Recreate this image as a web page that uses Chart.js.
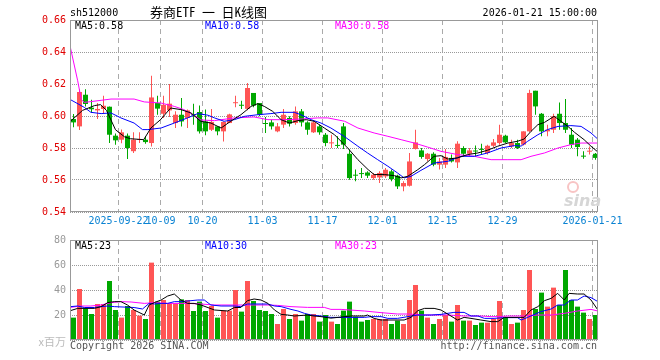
<!DOCTYPE html>
<html>
<head>
<meta charset="utf-8">
<script src="https://cdn.jsdelivr.net/npm/chart.js"></script>
<style>
  html, body { margin: 0; padding: 0; background: #fff; }
  #wrap { position: relative; width: 660px; height: 360px; overflow: hidden;
          font-family: 'DejaVu Sans Mono', monospace; font-size: 10px; }
  #wrap canvas { position: absolute; left: 0; }
  .t { position: absolute; white-space: pre; line-height: 12px; }
</style>
</head>
<body>
<div id="wrap">
  <canvas id="price" width="660" height="232" style="top:0;width:660px;height:232px"></canvas>
  <canvas id="vol" width="660" height="120" style="top:230px;width:660px;height:120px"></canvas>

  <div class="t" style="left:70px;top:7px;color:#000">sh512000</div>
  <div class="t" style="left:150px;top:4px;line-height:16px;font-size:13px;color:#000;font-family:'Noto Sans Mono CJK SC','Noto Sans CJK SC',sans-serif">券商ETF 一 日K线图</div>
  <div class="t" style="right:63px;top:7px;color:#000">2026-01-21 15:00:00</div>

  <div class="t" style="left:75px;top:20px;color:#000">MA5:0.58</div>
  <div class="t" style="left:205px;top:20px;color:#0000ff">MA10:0.58</div>
  <div class="t" style="left:335px;top:20px;color:#ff00ff">MA30:0.58</div>

  <div class="t" style="left:75px;top:240px;color:#000">MA5:23</div>
  <div class="t" style="left:205px;top:240px;color:#0000ff">MA10:30</div>
  <div class="t" style="left:335px;top:240px;color:#ff00ff">MA30:23</div>

  <div class="t" style="left:567px;top:181px;width:8px;height:8px;border:2px solid #f8c4c4;border-radius:50%"></div>
  <div class="t" style="left:564px;top:191px;line-height:14px;font:italic bold 16px 'DejaVu Sans',sans-serif;color:#d6d6d6">sina</div>

  <div class="t" style="right:594px;top:335px;line-height:12px;font-size:11px;color:#bbb;font-family:'Noto Sans CJK SC',sans-serif">x百万</div>
  <div class="t" style="left:70px;top:340px;color:#555">Copyright 2026 SINA.COM</div>
  <div class="t" style="right:63px;top:340px;color:#555">http://finance.sina.com.cn</div>
</div>

<script>
// trading days shown (one candle each)
const dates = [
  '2025-09-10','2025-09-11','2025-09-12','2025-09-15','2025-09-16','2025-09-17','2025-09-18','2025-09-19',
  '2025-09-22','2025-09-23','2025-09-24','2025-09-25','2025-09-26','2025-09-29','2025-09-30',
  '2025-10-09','2025-10-10','2025-10-13','2025-10-14','2025-10-15','2025-10-16','2025-10-17',
  '2025-10-20','2025-10-21','2025-10-22','2025-10-23','2025-10-24','2025-10-27','2025-10-28',
  '2025-10-29','2025-10-30','2025-10-31',
  '2025-11-03','2025-11-04','2025-11-05','2025-11-06','2025-11-07','2025-11-10','2025-11-11',
  '2025-11-12','2025-11-13','2025-11-14','2025-11-17','2025-11-18','2025-11-19','2025-11-20',
  '2025-11-21','2025-11-24','2025-11-25','2025-11-26','2025-11-27','2025-11-28',
  '2025-12-01','2025-12-02','2025-12-03','2025-12-04','2025-12-05','2025-12-08','2025-12-09',
  '2025-12-10','2025-12-11','2025-12-12','2025-12-15','2025-12-16','2025-12-17','2025-12-18',
  '2025-12-19','2025-12-22','2025-12-23','2025-12-24','2025-12-25','2025-12-26','2025-12-29',
  '2025-12-30','2025-12-31',
  '2026-01-05','2026-01-06','2026-01-07','2026-01-08','2026-01-09','2026-01-12','2026-01-13',
  '2026-01-14','2026-01-15','2026-01-16','2026-01-19','2026-01-20','2026-01-21'
];

const opens = [
  0.5981,0.5935,0.6133,0.6052,0.6035,0.6044,0.6058,0.5877,0.5852,0.5877,
  0.5780,0.5850,0.5852,0.5831,0.6081,0.6014,0.6035,0.5956,0.6008,0.5988,
  0.6012,0.6025,0.5966,0.5914,0.5935,0.5904,0.5956,0.6080,0.6068,0.6045,
  0.6144,0.6081,0.5956,0.5960,0.5904,0.5946,0.5988,0.5956,0.6029,0.5960,
  0.5898,0.5935,0.5883,0.5829,0.5817,0.5935,0.5764,0.5631,0.5641,0.5647,
  0.5612,0.5616,0.5623,0.5654,0.5627,0.5560,0.5564,0.5794,0.5785,0.5731,
  0.5764,0.5696,0.5696,0.5738,0.5710,0.5800,0.5764,0.5782,0.5792,0.5769,
  0.5814,0.5831,0.5877,0.5810,0.5831,0.5821,0.5904,0.6158,0.6014,0.5904,
  0.5914,0.6014,0.5956,0.5883,0.5852,0.5750,0.5777,0.5764
];
const highs = [
  0.6012,0.6167,0.6167,0.6102,0.6081,0.6127,0.6060,0.5890,0.5915,0.5890,
  0.5898,0.5898,0.5873,0.6252,0.6127,0.6127,0.6200,0.6029,0.6112,0.6040,
  0.6077,0.6065,0.6040,0.6044,0.5935,0.5965,0.6014,0.6127,0.6096,0.6206,
  0.6144,0.6081,0.5994,0.5977,0.5956,0.6044,0.5998,0.6060,0.6044,0.5967,
  0.5967,0.5946,0.5894,0.5883,0.5873,0.5956,0.5790,0.5665,0.5675,0.5654,
  0.5644,0.5654,0.5675,0.5665,0.5633,0.5592,0.5769,0.5914,0.5800,0.5769,
  0.5773,0.5738,0.5794,0.5759,0.5842,0.5811,0.5800,0.5815,0.5827,0.5821,
  0.5856,0.5946,0.5883,0.5852,0.5852,0.5904,0.6164,0.6158,0.6018,0.5946,
  0.6014,0.6085,0.6106,0.5925,0.5863,0.5779,0.5810,0.5769
];
const lows = [
  0.5929,0.5912,0.6060,0.6021,0.5981,0.6019,0.5831,0.5820,0.5830,0.5731,
  0.5768,0.5831,0.5827,0.5810,0.6008,0.5988,0.5994,0.5925,0.5935,0.5925,
  0.5946,0.5890,0.5880,0.5906,0.5880,0.5841,0.5956,0.6054,0.6044,0.6036,
  0.6055,0.5998,0.5894,0.5915,0.5898,0.5925,0.5935,0.5946,0.5935,0.5883,
  0.5894,0.5883,0.5811,0.5800,0.5800,0.5794,0.5602,0.5592,0.5612,0.5612,
  0.5602,0.5581,0.5612,0.5592,0.5543,0.5529,0.5560,0.5790,0.5733,0.5717,
  0.5686,0.5665,0.5675,0.5710,0.5675,0.5748,0.5748,0.5744,0.5759,0.5759,
  0.5806,0.5821,0.5831,0.5800,0.5794,0.5815,0.5898,0.6008,0.5873,0.5873,
  0.5894,0.5914,0.5894,0.5800,0.5748,0.5733,0.5759,0.5727
];
const closes = [
  0.5960,0.6150,0.6075,0.6042,0.6044,0.6064,0.5883,0.5848,0.5898,0.5800,
  0.5852,0.5854,0.5837,0.6116,0.6046,0.6070,0.6077,0.6008,0.5966,0.6035,
  0.6004,0.5904,0.5904,0.5963,0.5904,0.5963,0.6010,0.6084,0.6064,0.6175,
  0.6065,0.6008,0.5950,0.5935,0.5935,0.6008,0.5952,0.6029,0.5960,0.5914,
  0.5960,0.5898,0.5831,0.5833,0.5813,0.5821,0.5612,0.5627,0.5637,0.5627,
  0.5633,0.5644,0.5664,0.5606,0.5560,0.5581,0.5716,0.5835,0.5744,0.5764,
  0.5696,0.5716,0.5744,0.5716,0.5827,0.5764,0.5785,0.5778,0.5788,0.5814,
  0.5835,0.5883,0.5835,0.5831,0.5800,0.5904,0.6144,0.6060,0.5904,0.5914,
  0.5998,0.5956,0.5914,0.5821,0.5806,0.5746,0.5781,0.5738
];
// volume, millions
const volumes = [
  17.9,40.8,25.3,20.8,28.8,28.8,47.2,24,17.9,27.2,
  24,19.5,16.8,61.9,30.7,32,29.3,29.3,32.5,32,
  23.2,30.7,23.2,27.2,17.9,23.5,23.5,40,22.7,47.2,
  31.2,24,23.2,20.8,12.8,24.8,16.8,20.8,15.5,20.8,
  20.8,14.7,20,14.7,12.8,23.5,30.7,18.7,14.7,16,
  16.8,16.8,16.8,12.8,15.5,12.8,32,44,23.5,17.9,
  12.8,16.8,20,14.7,28,15.5,15.5,12,13.9,13.9,
  16.8,31.2,18.1,12.8,13.9,24,56,24.8,37.9,26.7,
  41.9,28,56,32,26.7,21.9,16.8,20
];

// moving average lines: [candle position, value]
const ma5 = [[-0.5,0.5967],[1.5,0.6035],[3.5,0.6065],[4.5,0.6071],[5.5,0.6035],[7,0.5914],[8.5,0.5870],[9.5,0.5858],
  [11.7,0.5852],[12.9,0.5925],[14.5,0.5977],[16.2,0.6050],[17.9,0.6040],[19.6,0.6019],[21.2,0.5967],[22.9,0.5956],
  [24.6,0.5925],[26.2,0.5967],[27.9,0.6008],[29.6,0.6060],[30.7,0.6077],[31.8,0.6060],[33.2,0.6029],[34.6,0.5977],
  [36,0.5956],[37.4,0.5971],[38.8,0.5977],[40.1,0.5967],[41.8,0.5925],[43.5,0.5883],[45.7,0.5800],[47.4,0.5727],
  [49.1,0.5665],[50.1,0.5634],[51.8,0.5634],[53.5,0.5627],[54.6,0.5613],[55.7,0.5623],[57.4,0.5665],[58.5,0.5696],
  [60.1,0.5748],[61.25,0.5752],[62.4,0.5731],[64,0.5738],[65.7,0.5759],[67.4,0.5769],[69,0.5786],[70.7,0.5811],
  [72.4,0.5831],[74,0.5842],[75.1,0.5856],[76.25,0.5904],[77.4,0.5946],[78.5,0.5960],[80.1,0.5998],[81.25,0.5967],
  [82.4,0.5935],[83.5,0.5898],[85.1,0.5852],[86.25,0.5811],[87.4,0.5775]];
const ma10 = [[-0.5,0.6102],[1.8,0.6054],[2.9,0.6023],[4.6,0.6015],[6.25,0.6019],[7.9,0.5988],[10.1,0.5956],[11.5,0.5915],
  [12.4,0.5915],[14.6,0.5925],[16.8,0.5956],[19,0.5988],[20.7,0.6015],[22.4,0.6005],[23.5,0.5988],[25.1,0.5967],
  [26.8,0.5977],[28.5,0.5998],[30.7,0.6008],[32.9,0.6015],[34.6,0.6023],[36.8,0.6023],[37.9,0.6008],[39.6,0.5977],
  [41.25,0.5956],[42.9,0.5925],[45.1,0.5873],[47.4,0.5811],[49,0.5769],[50.7,0.5727],[52.4,0.5686],[54,0.5644],
  [55.1,0.5613],[56.25,0.5623],[57.9,0.5660],[60.1,0.5706],[62.4,0.5717],[64.6,0.5748],[66.8,0.5748],[69,0.5769],
  [71.25,0.5800],[73.5,0.5815],[74.6,0.5812],[75.7,0.5842],[77.4,0.5883],[79,0.5915],[80.75,0.5935],[82.9,0.5940],
  [84.6,0.5935],[86.25,0.5894],[87.4,0.5855]];
const ma30 = [[-0.5,0.6425],[0.7,0.6220],[1.3,0.6102],[1.8,0.6085],[2.9,0.6090],[4.6,0.6098],[6.25,0.6106],[10.1,0.6106],
  [11.8,0.6088],[14.6,0.6081],[16.8,0.6060],[18.4,0.6040],[19.8,0.6010],[21.25,0.5975],[23.5,0.5971],[26.8,0.5988],
  [30.1,0.5994],[32.4,0.5977],[35.1,0.5977],[37.9,0.5981],[40.7,0.5988],[42.4,0.5988],[45.2,0.5967],[47.4,0.5925],
  [50.1,0.5894],[52.4,0.5873],[54.6,0.5852],[56.8,0.5831],[59,0.5806],[61.25,0.5779],[64,0.5759],[66.8,0.5748],
  [69.6,0.5727],[72.4,0.5727],[74.6,0.5727],[76.25,0.5748],[78.5,0.5769],[80.75,0.5800],[82.9,0.5821],[84.6,0.5831],
  [87.4,0.5831]];
const volMa5 = [[-0.5,23.5],[0.7,25.3],[3.5,25.3],[4.6,26.7],[5.7,29.9],[6.8,30.7],[7.9,30.7],[9,28],[10.1,24],
  [11.25,21.3],[11.8,20],[12.6,28],[13.5,30],[14.6,32],[15.7,35.2],[16.8,36.8],[17.9,32],[19,29.3],[20.1,29.3],
  [21.25,28],[23.5,24],[25.7,23.2],[26.8,26],[27.9,26],[29,31.5],[30.1,32.8],[31.25,32],[32.4,29.3],[33.5,24],
  [34.6,20.5],[35.7,20],[36.8,19.2],[39,20],[40.1,19.2],[41.25,18.7],[42.9,17.5],[46.25,19.2],[48.5,19.2],[49,20],
  [50.1,17.3],[51.25,16],[55.1,16],[56.25,18.1],[57.4,23.5],[58.5,25.3],[60.1,25.3],[61.25,24],[62.9,19.2],[64,16],
  [65.1,18.1],[66.25,17.3],[67.9,16],[69.6,14.7],[70.7,14.7],[71.8,18.1],[75.1,18.1],[76.25,24],[77.4,26.7],
  [78.5,31.5],[79.6,33.3],[80.7,37.3],[81.8,32],[82.6,37.3],[84,36.8],[85.1,36.8],[86.25,32],[87.4,24]];
const volMa10 = [[-0.5,26.7],[0.7,27.2],[1.8,26],[3.5,26],[4.6,26.7],[5.7,27.2],[6.8,26.7],[10.1,26],[11.5,24.8],
  [12.6,29.3],[13.5,28.8],[14.6,29.3],[15.7,29.3],[16.8,30.7],[17.9,30.7],[19,31.2],[20.7,32],[21.8,32],[22.9,28],
  [24.6,27.2],[26.8,27.2],[27.9,26.7],[29,28.8],[32.4,28.8],[33.5,27.2],[34.6,26.7],[36.25,24.5],[37.4,23.2],
  [38.5,21.3],[39.6,20],[41.25,19.2],[42.9,18.1],[48.5,18.1],[49.6,18.7],[51.25,18.7],[52.4,17.3],[54,17.3],
  [55.7,18.7],[57.4,20],[59.6,20],[61.25,20.5],[63.4,22.1],[65.1,22.1],[66.25,19.2],[67.4,19.2],[68.5,17.3],
  [70.1,17.3],[71.8,17.9],[74,17.9],[74.6,16],[75.7,18.1],[77.9,22.7],[79.6,24.8],[80.7,28],[81.8,28],[82.9,32],
  [84,32],[85.1,35.2],[86.25,33.9],[87.4,30.7]];
const volMa30 = [[-0.5,26.1],[1.25,27.2],[2.9,27.2],[4.6,28],[6.25,29.9],[7.9,30.7],[9.6,30.4],[11.8,29.3],[13.5,29.9],
  [15.7,29.3],[19,29.3],[21.25,28.8],[23.5,28],[32.4,28],[34,27.7],[36.25,26.7],[39,26.1],[41.8,26.1],[42.9,24.5],
  [44.6,24.5],[48.5,23.2],[51.25,21.9],[54,20.8],[55.7,20.8],[58.5,20],[62.4,20],[65.1,19.2],[67.9,19.2],[69.6,18.7],
  [70.7,18.7],[72.4,19.2],[75.1,19.2],[77.4,20],[79.6,20],[81.8,21.3],[84,23.2],[86.25,24.5],[87.4,23.2]];

const priceTicks = [0.54, 0.56, 0.58, 0.60, 0.62, 0.64, 0.66];
const volTicks = [0, 20, 40, 60, 80];
const tickDates = ['2025-09-22','2025-10-09','2025-10-20','2025-11-03','2025-11-17','2025-12-01','2025-12-15','2025-12-29','2026-01-21'];
const tickLabels = ['2025-09-22','10-09','10-20','11-03','11-17','12-01','12-15','12-29','2026-01-21'];

const UP = '#ff5555';
const DOWN = '#00a800';
const MONO = "'DejaVu Sans Mono', monospace";

// dashed date lines sit on the left edge of their candle
const tickPos = tickDates.map(d => dates.indexOf(d) - 0.5);
const colors = closes.map((c, i) => c >= opens[i] ? UP : DOWN);
const pts = arr => arr.map(p => ({ x: p[0], y: p[1] }));

const X_MIN = -0.5 - 1 / 12;
const X_MAX = 87.5 - 1 / 12;

const frame = {
  id: 'frame',
  afterDraw(chart) {
    const { ctx, chartArea: a } = chart;
    ctx.save();
    ctx.strokeStyle = '#999';
    ctx.lineWidth = 1;
    ctx.strokeRect(a.left + 0.5, a.top + 0.5, a.right - a.left - 1, a.bottom - a.top - 1);
    ctx.restore();
  }
};

function xScale(showLabels) {
  return {
    type: 'linear',
    min: X_MIN,
    max: X_MAX,
    offset: false,
    afterBuildTicks: s => { s.ticks = tickPos.map(v => ({ value: v })); },
    afterFit: s => { s.height = showLabels ? 20 : 0; },
    grid: { offset: false, color: '#aaa', lineWidth: 1, drawTicks: false },
    border: { display: false, dash: [5, 4] },
    ticks: {
      display: showLabels,
      autoSkip: false,
      maxRotation: 0,
      padding: 3,
      color: '#0a82d2',
      font: { family: MONO, size: 10 },
      callback: v => {
        const k = tickPos.indexOf(v);
        return k >= 0 ? tickLabels[k] : '';
      }
    }
  };
}

function yScale(min, max, list, color, fmt) {
  return {
    min: min,
    max: max,
    afterBuildTicks: s => { s.ticks = list.map(v => ({ value: v })); },
    afterFit: s => { s.width = 70; },
    grid: { color: '#999', lineWidth: 1, drawTicks: false },
    border: { display: false, dash: [1, 1] },
    ticks: { padding: 4, color: color, font: { family: MONO, size: 10 }, callback: fmt }
  };
}

function maLine(data, color, order) {
  return {
    type: 'line', data: pts(data), borderColor: color, borderWidth: 1,
    pointRadius: 0, tension: 0, fill: false, order: order
  };
}

const common = {
  responsive: false,
  animation: false,
  events: [],
  plugins: { legend: { display: false }, tooltip: { enabled: false } }
};

new Chart(document.getElementById('price'), {
  type: 'bar',
  data: {
    datasets: [
      maLine(ma5, '#000000', 0),
      maLine(ma10, '#0000ff', 1),
      maLine(ma30, '#ff00ff', 2),
      {
        data: opens.map((o, i) => ({ x: i, y: [o, closes[i]] })),
        backgroundColor: colors, barThickness: 5, grouped: false,
        minBarLength: 1, inflateAmount: 0, borderWidth: 0, order: 3
      },
      {
        data: lows.map((l, i) => ({ x: i, y: [l, highs[i]] })),
        backgroundColor: colors, barThickness: 1, grouped: false,
        inflateAmount: 0, borderWidth: 0, order: 4
      }
    ]
  },
  options: Object.assign({}, common, {
    layout: { padding: { top: 20, right: 62, left: 0, bottom: 0 } },
    scales: {
      x: xScale(true),
      y: yScale(0.54, 0.66, priceTicks, '#e00000', v => v.toFixed(2))
    }
  }),
  plugins: [frame]
});

new Chart(document.getElementById('vol'), {
  type: 'bar',
  data: {
    datasets: [
      maLine(volMa5, '#000000', 0),
      maLine(volMa10, '#0000ff', 1),
      maLine(volMa30, '#ff00ff', 2),
      {
        data: volumes.map((v, i) => ({ x: i, y: v })),
        backgroundColor: colors, barThickness: 5, grouped: false,
        inflateAmount: 0, borderWidth: 0, order: 3
      }
    ]
  },
  options: Object.assign({}, common, {
    layout: { padding: { top: 10, right: 62, left: 0, bottom: 10 } },
    scales: {
      x: xScale(false),
      y: yScale(0, 80, volTicks, '#999', v => v === 0 ? '' : String(v))
    }
  }),
  plugins: [frame]
});
</script>
</body>
</html>
